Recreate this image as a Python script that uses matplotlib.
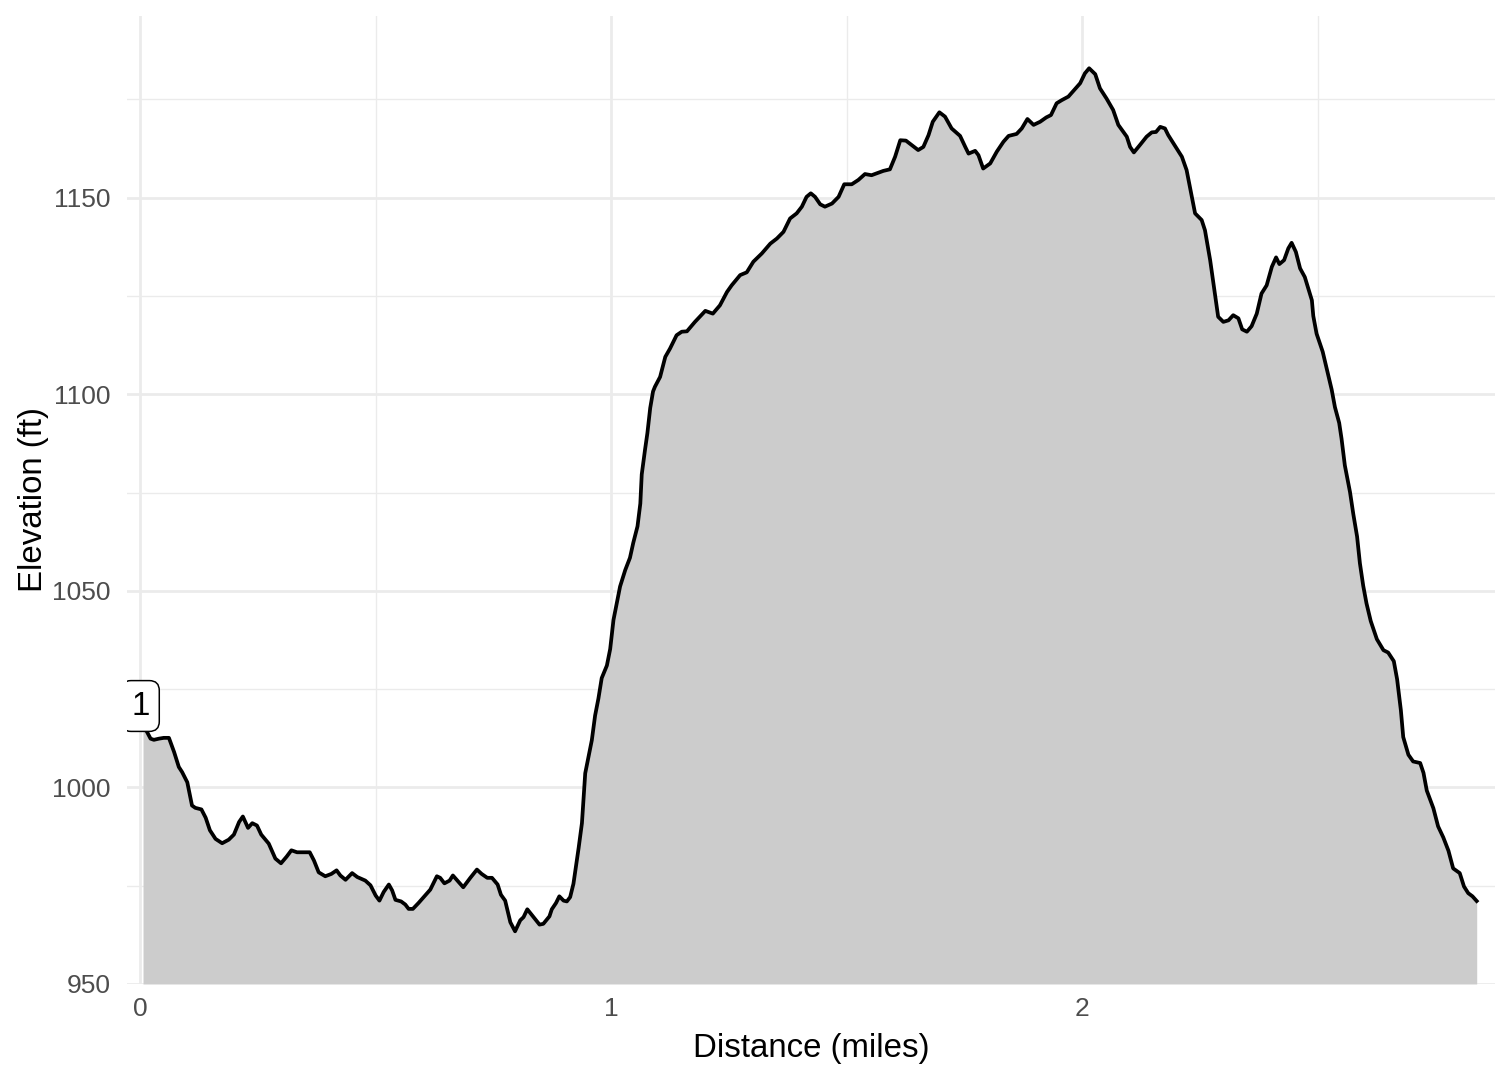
#!/usr/bin/env python3
"""Elevation profile of a trail walk, drawn in a ggplot-minimal look."""

import matplotlib

matplotlib.use("Agg")
import matplotlib.pyplot as plt

# distance along the track (miles) and elevation (ft)
distance_mi = [
    0.006, 0.011, 0.022, 0.029, 0.040, 0.050, 0.061, 0.072, 0.082, 0.089, 0.100,
    0.110, 0.117, 0.130, 0.139, 0.148, 0.160, 0.174, 0.188, 0.199, 0.210, 0.218,
    0.229, 0.238, 0.248, 0.257, 0.273, 0.287, 0.299, 0.311, 0.321, 0.333, 0.348,
    0.360, 0.369, 0.379, 0.393, 0.406, 0.417, 0.425, 0.436, 0.450, 0.461, 0.478,
    0.489, 0.500, 0.508, 0.517, 0.528, 0.535, 0.542, 0.554, 0.563, 0.570, 0.579,
    0.591, 0.605, 0.616, 0.630, 0.637, 0.646, 0.657, 0.664, 0.672, 0.686, 0.701,
    0.715, 0.725, 0.737, 0.747, 0.759, 0.766, 0.775, 0.786, 0.796, 0.807, 0.814,
    0.822, 0.834, 0.848, 0.856, 0.869, 0.874, 0.883, 0.890, 0.899, 0.906, 0.913,
    0.920, 0.927, 0.931, 0.938, 0.945, 0.952, 0.959, 0.966, 0.973, 0.980, 0.991,
    0.998, 1.005, 1.012, 1.019, 1.030, 1.040, 1.047, 1.056, 1.062, 1.065, 1.072,
    1.077, 1.083, 1.089, 1.093, 1.104, 1.115, 1.125, 1.139, 1.150, 1.161, 1.178,
    1.200, 1.216, 1.231, 1.246, 1.256, 1.274, 1.288, 1.302, 1.320, 1.338, 1.352,
    1.366, 1.380, 1.394, 1.405, 1.415, 1.424, 1.433, 1.444, 1.454, 1.469, 1.483,
    1.495, 1.511, 1.525, 1.539, 1.553, 1.567, 1.578, 1.592, 1.603, 1.614, 1.626,
    1.638, 1.652, 1.663, 1.674, 1.683, 1.697, 1.709, 1.723, 1.741, 1.752, 1.759,
    1.773, 1.780, 1.790, 1.805, 1.819, 1.833, 1.844, 1.861, 1.872, 1.884, 1.897,
    1.911, 1.924, 1.934, 1.946, 1.957, 1.971, 1.982, 1.996, 2.006, 2.015, 2.028,
    2.038, 2.052, 2.066, 2.077, 2.095, 2.102, 2.110, 2.123, 2.137, 2.148, 2.157,
    2.166, 2.176, 2.183, 2.201, 2.212, 2.222, 2.229, 2.240, 2.254, 2.261, 2.272,
    2.282, 2.289, 2.300, 2.311, 2.321, 2.332, 2.340, 2.350, 2.360, 2.371, 2.381,
    2.392, 2.403, 2.412, 2.419, 2.429, 2.438, 2.445, 2.454, 2.463, 2.473, 2.488,
    2.491, 2.498, 2.511, 2.520, 2.530, 2.537, 2.546, 2.551, 2.558, 2.569, 2.576,
    2.584, 2.590, 2.597, 2.604, 2.613, 2.626, 2.640, 2.650, 2.662, 2.669, 2.677,
    2.682, 2.693, 2.703, 2.718, 2.725, 2.732, 2.746, 2.756, 2.767, 2.778, 2.788,
    2.802, 2.811, 2.820, 2.829, 2.838,
]
elevation_ft = [
    1017.0, 1014.9, 1012.4, 1012.1, 1012.4, 1012.6, 1012.6, 1009.0, 1005.2, 1003.9, 1001.3,
    995.4, 994.8, 994.4, 992.3, 989.1, 986.9, 985.8, 986.7, 988.0, 991.2, 992.6,
    989.7, 990.9, 990.3, 988.0, 985.7, 981.9, 980.7, 982.4, 984.0, 983.5, 983.5,
    983.5, 981.4, 978.4, 977.4, 978.0, 978.9, 977.6, 976.5, 978.2, 977.2, 976.3,
    975.1, 972.5, 971.2, 973.4, 975.3, 973.8, 971.4, 971.0, 970.2, 969.1, 969.1,
    970.6, 972.5, 974.0, 977.4, 977.0, 975.6, 976.3, 977.6, 976.5, 974.6, 977.0,
    979.1, 978.0, 977.0, 977.0, 975.3, 972.7, 971.2, 965.7, 963.4, 966.2, 967.0,
    969.0, 967.2, 965.1, 965.3, 967.2, 969.0, 970.6, 972.3, 971.2, 971.0, 972.1,
    975.5, 981.4, 984.6, 990.9, 1003.6, 1007.8, 1012.0, 1018.3, 1022.6, 1027.8, 1031.0,
    1035.2, 1042.6, 1046.8, 1051.1, 1055.3, 1058.4, 1062.2, 1066.4, 1072.2, 1079.6, 1085.9,
    1090.1, 1096.5, 1100.7, 1101.9, 1104.4, 1109.5, 1111.6, 1115.0, 1115.9, 1116.0, 1118.4,
    1121.2, 1120.5, 1122.6, 1126.0, 1127.7, 1130.3, 1131.0, 1133.7, 1135.8, 1138.3, 1139.6,
    1141.3, 1144.7, 1146.0, 1147.7, 1150.2, 1151.1, 1150.2, 1148.3, 1147.7, 1148.5, 1150.2,
    1153.4, 1153.4, 1154.5, 1156.0, 1155.7, 1156.3, 1156.8, 1157.2, 1160.4, 1164.6, 1164.5,
    1163.4, 1162.1, 1162.9, 1165.9, 1169.3, 1171.7, 1170.6, 1167.6, 1165.7, 1162.9, 1161.2,
    1161.9, 1160.8, 1157.4, 1158.7, 1161.7, 1164.2, 1165.7, 1166.2, 1167.6, 1170.0, 1168.5,
    1169.3, 1170.4, 1171.0, 1174.0, 1174.8, 1175.7, 1177.2, 1179.1, 1181.6, 1182.9, 1181.4,
    1177.8, 1175.2, 1172.3, 1168.5, 1165.5, 1162.9, 1161.5, 1163.4, 1165.5, 1166.6, 1166.7,
    1168.0, 1167.6, 1165.9, 1162.5, 1160.4, 1157.0, 1152.7, 1146.0, 1144.3, 1141.7, 1134.1,
    1125.6, 1119.7, 1118.4, 1118.8, 1120.1, 1119.3, 1116.5, 1115.9, 1117.3, 1120.5, 1125.6,
    1127.7, 1132.4, 1134.8, 1133.1, 1134.1, 1137.1, 1138.5, 1136.2, 1132.0, 1129.8, 1123.9,
    1119.9, 1115.4, 1110.8, 1106.3, 1101.2, 1096.7, 1092.7, 1088.7, 1081.9, 1075.1, 1069.5,
    1063.8, 1057.0, 1051.3, 1046.8, 1042.3, 1037.7, 1034.9, 1034.3, 1032.1, 1027.5, 1019.6,
    1012.8, 1008.3, 1006.6, 1006.2, 1003.7, 999.2, 994.7, 990.1, 987.3, 983.9, 979.4,
    978.2, 974.8, 973.1, 972.3, 971.1,
]

x_ticks = [0, 1, 2]
x_minor = [0.5, 1.5, 2.5]
y_ticks = [950, 1000, 1050, 1100, 1150]
y_minor = [975, 1025, 1075, 1125, 1175]

marker_label = "1"
marker_x = 0.0
marker_y = 1020.7

GRID = "#EBEBEB"
TICK_TEXT = "#4D4D4D"


def main() -> int:
    plt.rcParams["font.family"] = ["Liberation Sans", "DejaVu Sans"]

    fig = plt.figure(figsize=(7, 5), dpi=216)
    ax = fig.add_axes([0.0840, 0.0889, 0.9048, 0.8963])

    ax.set_xlim(-0.028, 2.877)
    ax.set_ylim(950, 1196.2)

    # grid like theme_minimal: major + lighter minor lines, no ticks, no frame
    for x in x_minor:
        ax.axvline(x, color=GRID, linewidth=0.45, zorder=0)
    for y in y_minor:
        ax.axhline(y, color=GRID, linewidth=0.45, zorder=0)
    for x in x_ticks:
        ax.axvline(x, color=GRID, linewidth=0.9, zorder=0)
    for y in y_ticks:
        ax.axhline(y, color=GRID, linewidth=0.9, zorder=0)

    ax.fill_between(distance_mi, elevation_ft, 950, color="#CCCCCC", linewidth=0, zorder=1)
    ax.plot(distance_mi, elevation_ft, color="black", linewidth=1.25, zorder=2)

    ax.text(
        marker_x, marker_y, marker_label, ha="center", va="center", fontsize=11, color="black",
        zorder=3, clip_on=True,
        bbox=dict(boxstyle="round,pad=0.3,rounding_size=0.3", facecolor="white", edgecolor="black", linewidth=0.5),
    )

    ax.set_xticks(x_ticks)
    ax.set_xticklabels([str(v) for v in x_ticks])
    ax.set_yticks(y_ticks)
    ax.set_yticklabels([str(v) for v in y_ticks])
    ax.tick_params(length=0, labelsize=8.8, labelcolor=TICK_TEXT)
    ax.tick_params(axis="x", pad=4.5)
    ax.tick_params(axis="y", pad=5.5)
    for spine in ax.spines.values():
        spine.set_visible(False)

    ax.set_xlabel("Distance (miles)", fontsize=11, color="black", labelpad=4)
    ax.set_ylabel("Elevation (ft)", fontsize=11, color="black", labelpad=1)

    fig.savefig("out.png", dpi=216, facecolor="white")
    plt.close(fig)
    return 0


if __name__ == "__main__":
    raise SystemExit(main())
